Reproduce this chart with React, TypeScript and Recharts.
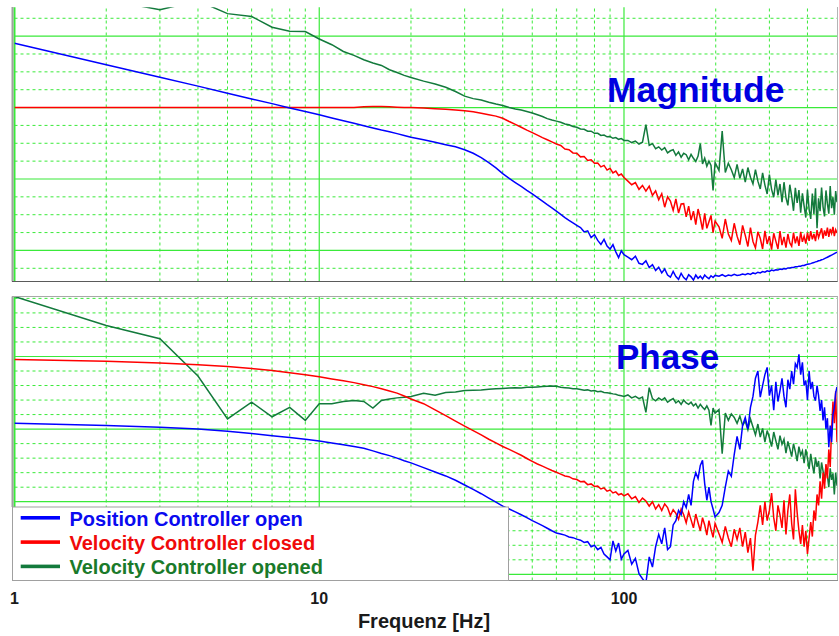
import { LineChart, Line, XAxis, YAxis, ReferenceLine } from "recharts";

// frequency points (Hz) shared by all six curves
const FREQ = [
  1, 2, 3, 4, 5, 6, 7, 8, 9, 10,
  11, 12, 13, 14, 15, 16, 17, 18, 19, 20,
  22, 24, 26, 28, 30, 32, 34, 36, 38, 40,
  42, 44, 46, 48, 50, 52, 54, 56, 58, 60,
  62, 64, 66, 68, 70, 72, 74, 76, 78, 80,
  82, 84, 86, 88, 90, 92, 94, 96, 98, 100,
  103, 106, 109, 112, 115, 118, 121, 124, 127, 130,
  133, 136, 139, 142, 145, 148, 151, 154, 157, 160,
  163, 166, 169, 172, 175, 178, 181, 184, 187, 190,
  193, 196, 199, 205, 210, 215, 220, 225, 230, 235,
  240, 245, 250, 255, 260, 265, 270, 275, 280, 285,
  290, 295, 300, 305, 310, 315, 320, 325, 330, 335,
  340, 345, 350, 355, 360, 365, 370, 375, 380, 385,
  390, 395, 400, 405, 410, 415, 420, 425, 430, 435,
  440, 445, 450, 455, 460, 465, 470, 475, 480, 485,
  490, 495, 500,
];

// magnitude, dB
const MAG_POS_OPEN = [
  18.0, 12.0, 8.5, 6.0, 4.0, 2.4, 1.1, -0.1, -1.1, -2.0,
  -2.9, -3.7, -4.4, -5.1, -5.7, -6.3, -6.8, -7.3, -7.8, -8.3,
  -9.0, -9.7, -10.4, -11.0, -11.8, -12.8, -14.0, -15.4, -16.9, -18.5,
  -19.8, -21.0, -22.1, -23.2, -24.2, -25.2, -26.2, -27.2, -28.1, -29.0,
  -29.9, -30.8, -31.6, -32.3, -33.0, -33.6, -34.8, -34.5, -36.4, -35.6,
  -37.2, -38.3, -36.9, -38.8, -39.6, -38.4, -40.4, -42.0, -40.1, -41.2,
  -41.9, -42.6, -41.6, -43.6, -43.9, -42.9, -44.8, -44.0, -45.6, -44.7,
  -46.3, -45.2, -46.9, -47.5, -45.9, -47.3, -48.1, -46.4, -47.6, -48.2,
  -46.8, -47.4, -48.3, -46.9, -47.8, -47.2, -48.0, -46.9, -47.5, -47.9,
  -47.1, -47.6, -47.0, -47.2, -46.8, -47.3, -46.9, -47.1, -46.7, -47.0,
  -46.9, -46.6, -46.8, -46.5, -46.7, -46.3, -46.5, -46.1, -46.3, -45.9,
  -46.1, -45.7, -45.9, -45.5, -45.7, -45.4, -45.5, -45.2, -45.3, -45.1,
  -45.2, -44.9, -44.9, -44.8, -44.8, -44.6, -44.6, -44.4, -44.4, -44.2,
  -44.2, -44.0, -43.9, -43.8, -43.7, -43.5, -43.4, -43.2, -43.1, -42.9,
  -42.8, -42.6, -42.5, -42.3, -42.1, -41.9, -41.7, -41.5, -41.3, -41.1,
  -40.9, -40.7, -40.5,
];

const MAG_VEL_CLOSED = [
  0, 0, 0, 0, 0, 0, 0, 0, 0, 0,
  0, 0, 0, 0.2, 0.3, 0.3, 0.2, 0.1, 0, 0,
  -0.1, -0.3, -0.5, -0.7, -0.9, -1.2, -1.6, -2.0, -2.4, -3.0,
  -3.9, -4.7, -5.5, -6.3, -7.0, -7.7, -8.4, -9.0, -9.6, -10.2,
  -10.6, -11.6, -11.8, -12.7, -12.8, -13.8, -13.7, -14.8, -14.6, -15.6,
  -15.5, -16.6, -16.2, -17.5, -17.0, -18.3, -17.8, -19.0, -18.6, -19.6,
  -20.6, -21.6, -21.0, -22.9, -21.8, -23.4, -22.0, -24.6, -23.3, -25.8,
  -24.1, -27.9, -25.0, -26.2, -28.8, -25.6, -29.5, -27.0, -26.9, -30.6,
  -27.6, -31.5, -29.0, -32.8, -28.4, -31.0, -34.2, -29.6, -33.8, -32.0,
  -30.2, -35.0, -31.8, -33.4, -36.6, -31.2, -35.4, -37.2, -32.4, -36.0,
  -38.4, -33.0, -35.8, -38.9, -33.6, -37.5, -39.3, -34.8, -36.6, -39.6,
  -34.5, -38.2, -36.0, -39.8, -35.2, -37.4, -39.6, -34.6, -38.5, -36.2,
  -39.2, -35.4, -37.9, -38.8, -35.0, -38.0, -36.1, -38.7, -34.8, -37.6,
  -36.0, -38.1, -35.0, -37.3, -34.6, -36.9, -35.4, -37.4, -34.3, -36.4,
  -35.1, -33.8, -36.7, -34.4, -35.9, -33.6, -36.2, -34.0, -35.2, -33.4,
  -36.0, -34.2, -35.1,
];

const MAG_VEL_OPENED = [
  34.0, 30.2, 27.4, 29.9, 26.3, 25.5, 22.5, 21.4, 21.3, 19.2,
  17.6, 15.7, 14.6, 13.4, 12.5, 11.8, 10.6, 9.8, 9.0, 8.4,
  7.4, 6.6, 5.7, 4.5, 3.2, 2.5, 2.1, 1.5, 1.0, 0.6,
  0.0, -0.4, -0.7, -1.1, -1.5, -2.0, -2.5, -3.1, -3.5, -3.8,
  -4.1, -4.6, -4.8, -5.3, -5.5, -6.0, -6.1, -6.6, -6.6, -7.2,
  -7.2, -7.8, -7.7, -8.2, -8.1, -8.6, -8.4, -8.9, -8.7, -9.2,
  -9.2, -9.8, -9.4, -10.2, -9.7, -4.8, -10.6, -10.1, -11.5, -11.0,
  -11.9, -11.2, -12.7, -12.1, -11.8, -13.4, -12.4, -13.9, -12.8, -13.2,
  -14.6, -13.1, -14.2, -15.1, -13.6, -10.1, -15.8, -14.2, -16.4, -15.0,
  -16.2, -23.2, -15.4, -17.6, -6.6, -18.2, -15.6, -17.4, -19.6, -15.9,
  -19.8, -17.2, -20.9, -16.8, -19.5, -21.4, -17.4, -20.6, -22.8, -18.3,
  -21.7, -24.2, -18.8, -22.9, -25.1, -20.2, -24.6, -21.4, -26.5, -20.9,
  -25.2, -27.4, -21.6, -24.8, -28.9, -22.5, -26.7, -23.1, -29.4, -24.0,
  -27.6, -30.8, -23.0, -28.5, -31.2, -24.1, -29.8, -22.6, -33.8, -25.4,
  -29.0, -22.4, -27.8, -30.5, -23.2, -26.9, -29.7, -22.0, -28.2, -25.1,
  -30.0, -23.4, -26.5,
];

// phase, degrees
const PHASE_POS_OPEN = [
  -92, -95, -97.4, -100, -103, -106, -109, -111.5, -114, -116.5,
  -119, -121.5, -124, -126.5, -130, -133.5, -136.5, -140, -143.5, -146.5,
  -153, -159, -164.5, -170.5, -177, -183, -189, -195, -200.5, -206,
  -210, -214, -218, -222, -226, -229.5, -233, -236.5, -240, -243,
  -244.5, -246, -248.5, -249.5, -251.5, -253, -256, -255, -262, -260,
  -266, -263, -272, -276, -280, -254, -268, -257, -279, -272,
  -267, -286, -278, -299, -306, -312, -276, -290, -262, -245,
  -258, -236, -266, -262, -232, -226, -212, -218, -200, -208,
  -190, -205, -172, -160, -168, -150, -143, -175, -198, -180,
  -200, -210, -221, -215, -205, -180, -158, -165, -135, -110,
  -128, -95, -84, -100, -70, -55, -30, -20, -56, -40,
  -25, -15, -54, -40, -74, -35, -62, -47, -30, -55,
  -70, -32, -45, -20, -38, -10, -15, 3, -25, -8,
  -40, -33, -60, -20, -45, -35, -55, -61, -40, -54,
  -75, -60, -88, -70, -100, -85, -125, -95, -118, -80,
  -70, -50, -42,
];

const PHASE_VEL_CLOSED = [
  -4.1, -6.5, -8.9, -11.5, -13.8, -16.5, -19.3, -22.5, -25.3, -28.0,
  -31.0, -33.5, -36.0, -38.8, -41.5, -44.5, -47.5, -50.5, -54.5, -58.5,
  -65, -73.5, -81.5, -89, -96, -102, -108, -114, -119, -124,
  -128, -132, -136, -140.5, -144.5, -148, -151, -154, -157, -159.5,
  -162, -164.5, -165.5, -168.5, -169.5, -172.5, -172, -176.5, -175.5, -179,
  -178.5, -182.5, -181, -185.5, -184, -188, -186.5, -190.5, -189, -192,
  -189, -196, -193, -201, -195, -199, -206, -200, -210, -204,
  -212, -203, -208, -219, -211, -216, -224, -210, -218, -229,
  -214, -225, -236, -217, -229, -240, -222, -232, -246, -226,
  -238, -249, -230, -244, -256, -234, -250, -262, -238, -252,
  -236, -262, -242, -270, -250, -295, -246, -228, -205, -232,
  -200, -226, -212, -188, -222, -240, -205, -218, -236, -198,
  -245, -212, -190, -230, -252, -183, -215, -240, -258, -232,
  -262, -240, -272, -250, -228, -248, -212, -226, -190, -205,
  -172, -196, -160, -182, -148, -168, -128, -152, -100, -62,
  -92, -48, -118,
];

const PHASE_VEL_OPENED = [
  82.6, 42.7, 24.5, -27, -86, -63, -83, -70, -88, -65,
  -65, -62, -60.5, -62, -71, -60.5, -58.5, -57, -56, -55,
  -50.5, -53.5, -49.5, -49, -47, -46.5, -46, -45, -44.5, -44,
  -43.5, -43, -43.5, -42.5, -42.5, -42, -41.5, -41, -40.5, -41,
  -42.5, -43, -43.5, -44.5, -44.5, -45.5, -46.5, -46, -47.5, -47,
  -48.5, -48, -49.5, -50, -50.5, -51.5, -52, -53.5, -54, -55,
  -53, -57, -55, -58, -56, -77, -43, -58, -61, -57,
  -60, -57, -63, -60, -58, -64, -61, -66, -60, -64,
  -66, -63, -68, -65, -71, -66, -70, -73, -68, -74,
  -95, -71, -78, -73, -134, -78, -88, -79, -84, -92,
  -82, -95, -89, -101, -86, -97, -108, -93, -111, -99,
  -118, -102, -112, -124, -104, -116, -128, -109, -121, -114,
  -133, -117, -127, -138, -120, -131, -144, -124, -136, -130,
  -147, -128, -140, -155, -134, -149, -161, -139, -152, -144,
  -168, -146, -158, -172, -150, -164, -180, -154, -170, -161,
  -190, -160, -178,
];

const FREQ_TICKS = [1, 10, 100];
const FREQ_GRID = [1, 2, 3, 4, 5, 6, 7, 8, 9, 10, 20, 30, 40, 50, 60, 70, 80, 90, 100, 200, 300, 400];
const MAG_GRID = [25, 20, 15, 10, 5, 0, -5, -10, -15, -20, -25, -30, -35, -40, -45];
const PHASE_GRID = [80, 60, 40, 20, 0, -20, -40, -60, -80, -100, -120, -140, -160, -180, -200, -220, -240, -260, -280, -300];

const SERIES = [
  { name: "Position Controller open", color: "#0000ff", text: "#0a0af0" },
  { name: "Velocity Controller closed", color: "#ff0000", text: "#f00a0a" },
  { name: "Velocity Controller opened", color: "#137a3c", text: "#1a7a2a" },
];

const GRID = "#3aea3a";
const FONT = "'Liberation Sans', Arial, sans-serif";

const rows = FREQ.map((f, i) => ({
  f,
  magPos: MAG_POS_OPEN[i],
  magClosed: MAG_VEL_CLOSED[i],
  magOpened: MAG_VEL_OPENED[i],
  phPos: PHASE_POS_OPEN[i],
  phClosed: PHASE_VEL_CLOSED[i],
  phOpened: PHASE_VEL_OPENED[i],
}));

function gridLines(yVals: number[], major: number) {
  const v = FREQ_GRID.map((f) => {
    const isMajor = FREQ_TICKS.includes(f);
    return (
      <ReferenceLine
        key={`v${f}`}
        x={f}
        stroke={GRID}
        strokeWidth={f === 1 ? 2 : isMajor ? 1.2 : 1}
        strokeDasharray={isMajor ? undefined : "3 3"}
      />
    );
  });
  const h = yVals.map((y) => {
    const isMajor = y % major === 0;
    return (
      <ReferenceLine
        key={`h${y}`}
        y={y}
        stroke={GRID}
        strokeWidth={isMajor ? 1.2 : 1}
        strokeDasharray={isMajor ? undefined : "3 3"}
      />
    );
  });
  return [...v, ...h];
}

type PanelProps = {
  top: number;
  height: number;
  margin: { top: number; right: number; bottom: number; left: number };
  yDomain: [number, number];
  yGrid: number[];
  major: number;
  keys: string[];
  showTicks?: boolean;
};

function Panel({ top, height, margin, yDomain, yGrid, major, keys, showTicks }: PanelProps) {
  const xAxis = showTicks ? (
    <XAxis
      dataKey="f"
      type="number"
      scale="log"
      domain={[1, 500]}
      ticks={FREQ_TICKS}
      height={30}
      axisLine={false}
      tickLine={false}
      tickSize={6}
      tickMargin={6}
      tick={{ fontSize: 16, fontWeight: 700, fill: "#1a1a1a", fontFamily: FONT }}
      allowDataOverflow
    />
  ) : (
    <XAxis dataKey="f" type="number" scale="log" domain={[1, 500]} hide allowDataOverflow />
  );
  const gridAxis = showTicks ? (
    <XAxis dataKey="f" type="number" scale="log" domain={[1, 500]} ticks={FREQ_TICKS} height={30} tick={false} axisLine={false} tickLine={false} allowDataOverflow />
  ) : (
    <XAxis dataKey="f" type="number" scale="log" domain={[1, 500]} hide allowDataOverflow />
  );
  return (
    <>
      {/* grid layer underneath the curves */}
      <div style={{ position: "absolute", left: 0, top }}>
        <LineChart width={839} height={height} data={rows} margin={margin}>
          {gridAxis}
          <YAxis type="number" domain={yDomain} hide allowDataOverflow />
          {gridLines(yGrid, major)}
        </LineChart>
      </div>
      <div style={{ position: "absolute", left: 0, top }}>
        <LineChart width={839} height={height} data={rows} margin={margin}>
          {xAxis}
          <YAxis type="number" domain={yDomain} hide allowDataOverflow />
          {keys.map((k, i) => (
            <Line
              key={k}
              dataKey={k}
              stroke={SERIES[2 - i].color}
              strokeWidth={1.5}
              dot={false}
              isAnimationActive={false}
            />
          ))}
        </LineChart>
      </div>
    </>
  );
}

export default function App() {
  return (
    <div style={{ position: "absolute", left: 0, top: 0, width: 839, height: 636, background: "#fff" }}>
      <Panel
        top={0}
        height={290}
        margin={{ top: 7.2, right: 2, bottom: 8.5, left: 14.5 }}
        yDomain={[-48.7, 28.1]}
        yGrid={MAG_GRID}
        major={20}
        keys={["magOpened", "magClosed", "magPos"]}
      />
      <Panel
        top={290}
        height={346}
        margin={{ top: 6.5, right: 2, bottom: 25.5, left: 14.5 }}
        yDomain={[-308.5, 82.6]}
        yGrid={PHASE_GRID}
        major={100}
        keys={["phOpened", "phClosed", "phPos"]}
        showTicks
      />
      <svg
        width={839}
        height={636}
        style={{ position: "absolute", left: 0, top: 0, pointerEvents: "none" }}
        fontFamily={FONT}
        fontWeight={700}
      >
        {/* panel frames */}
        <line x1={12.5} y1={7} x2={12.5} y2={281.5} stroke="#a0a0a0" strokeWidth={2} />
        <line x1={12} y1={281.5} x2={838} y2={281.5} stroke="#5a5a5a" strokeWidth={1} />
        <line x1={837.5} y1={7} x2={837.5} y2={281.5} stroke="#b4b4b4" strokeWidth={1} />
        <line x1={12} y1={296.5} x2={838} y2={296.5} stroke="#a8a8a8" strokeWidth={1} />
        <line x1={12.5} y1={296.5} x2={12.5} y2={507} stroke="#a0a0a0" strokeWidth={2} />
        <line x1={837.5} y1={296.5} x2={837.5} y2={580.5} stroke="#b4b4b4" strokeWidth={1} />
        <line x1={12} y1={580.5} x2={838} y2={580.5} stroke="#909090" strokeWidth={1} />

        <text x={607} y={101.7} fontSize={35.5} fill="#0000e0">Magnitude</text>
        <text x={616} y={369} fontSize={35} fill="#0000e0">Phase</text>

        {/* legend */}
        <rect x={12.5} y={507} width={496} height={73.5} fill="#fff" stroke="#a0a0a0" strokeWidth={1} />
        {SERIES.map((s, i) => (
          <g key={s.name}>
            <rect x={20.7} y={516 + i * 24.3} width={39.3} height={3.6} fill={s.color} />
            <text x={69.5} y={525.5 + i * 24} fontSize={20} fill={s.text}>{s.name}</text>
          </g>
        ))}

        <text x={424} y={628} fontSize={20} textAnchor="middle" fill="#1a1a1a">Frequenz [Hz]</text>
      </svg>
    </div>
  );
}
